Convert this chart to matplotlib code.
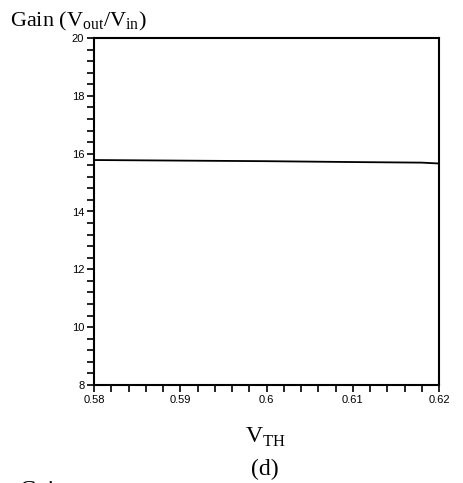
import matplotlib
matplotlib.use('Agg')
import matplotlib.pyplot as plt
from matplotlib.ticker import MultipleLocator

plt.rcParams['mathtext.fontset'] = 'custom'
plt.rcParams['mathtext.rm'] = 'Liberation Serif'

# gain vs threshold voltage
vth = [0.58, 0.59, 0.60, 0.61, 0.618, 0.62]
gain = [15.78, 15.76, 15.74, 15.71, 15.69, 15.66]

xticks = [0.58, 0.59, 0.60, 0.61, 0.62]
xlabels = ['0.58', '0.59', '0.6', '0.61', '0.62']
yticks = [8, 10, 12, 14, 16, 18, 20]

fig = plt.figure(figsize=(4.63, 4.83), dpi=100)
ax = fig.add_axes([94/463, 98/483, 345/463, 347/483])

ax.plot(vth, gain, color='black', lw=1.3)

ax.set_xlim(0.58, 0.62)
ax.set_ylim(8, 20)
ax.set_xticks(xticks)
ax.set_xticklabels(xlabels)
ax.set_yticks(yticks)
ax.xaxis.set_minor_locator(MultipleLocator(0.002))
ax.yaxis.set_minor_locator(MultipleLocator(0.4))
ax.tick_params(which='both', direction='out', length=5, width=1.2,
               labelsize=8, pad=2, colors='black')
for lbl in ax.get_xticklabels() + ax.get_yticklabels():
    lbl.set_family('Liberation Sans')
for s in ax.spines.values():
    s.set_linewidth(1.5)

serif = 'Liberation Serif'
fig.text(10/463, 1 - 26/483, r'Gain (V$_{\mathrm{out}}$/V$_{\mathrm{in}}$)',
         fontsize=16, family=serif, ha='left', va='baseline')
fig.text(265/463, 1 - 443/483, r'V$_{\mathrm{TH}}$', fontsize=17,
         family=serif, ha='center', va='baseline')
fig.text(265/463, 1 - 475/483, '(d)', fontsize=17, family=serif,
         ha='center', va='baseline')
fig.text(20/463, 1 - 496/483, 'Gain', fontsize=17, family=serif,
         ha='left', va='baseline')

fig.savefig('out.png', dpi=100)
